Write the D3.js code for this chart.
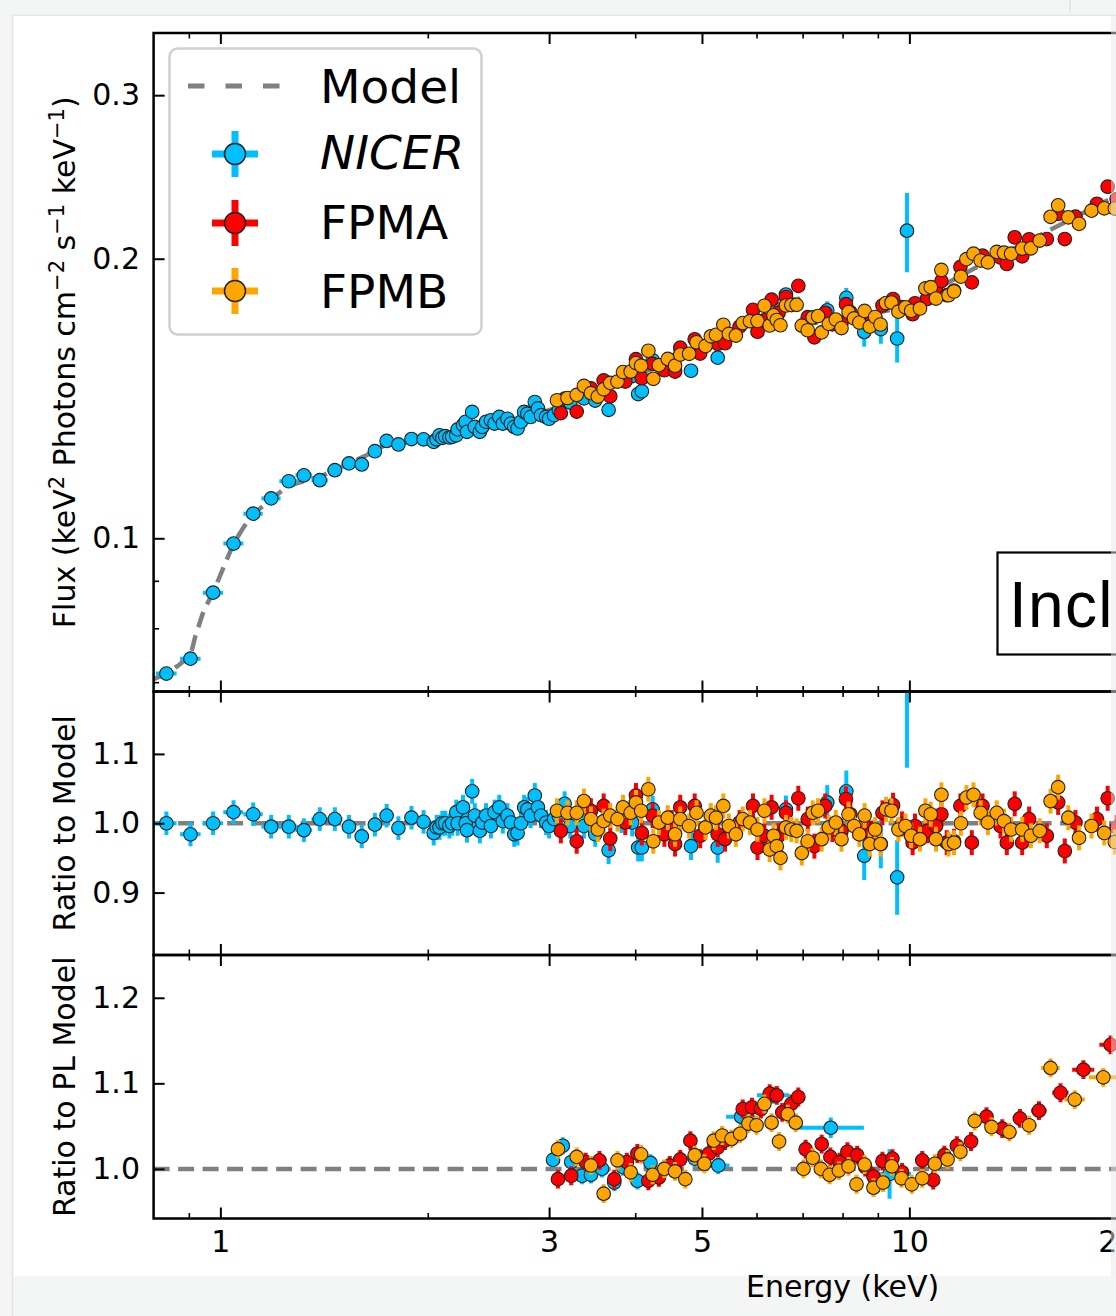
<!DOCTYPE html>
<html><head><meta charset="utf-8">
<script src="https://cdn.jsdelivr.net/npm/d3@7"></script>
<style>html,body{margin:0;padding:0;background:#f4f5f5;overflow:hidden}</style>
</head><body>
<svg id="c" width="1116" height="1316"></svg>
<script>
// ---------------- DATA ----------------
// Model (panel 1 dashed line)
const modelEnergy = [0.8,0.835,0.87,0.905,0.92,0.946,0.976,1.011,1.045,1.081,1.116,1.182,1.25,1.41,1.62,1.73,1.93,2.2,2.5,3.0,3.5,4.0,4.5,5.0,5.5,6.0,6.4,6.7,6.9,7.1,7.3,7.6,8.0,8.5,9.0,9.5,10.0,11.0,12.45,14.0,16.1,19.7,22.0];
const modelFlux   = [0.0705,0.0715,0.073,0.0748,0.0785,0.0836,0.0874,0.0931,0.0987,0.1028,0.1063,0.1099,0.1138,0.1169,0.1226,0.1259,0.1275,0.130,0.1323,0.1374,0.143,0.1498,0.155,0.1614,0.167,0.1727,0.178,0.1805,0.181,0.1735,0.1705,0.171,0.1725,0.1737,0.175,0.1765,0.1785,0.186,0.1954,0.204,0.2153,0.2325,0.241];

// NICER
const nicerEnergy = [0.835,0.905,0.976,1.045,1.116,1.185,1.257,1.322,1.394,1.466,1.537,1.604,1.676,1.743,1.813,1.894,1.972,
  2.04,2.06,2.08,2.10,2.12,2.15,2.17,2.20,2.21,2.25,2.27,2.28,2.32,2.34,2.38,2.40,2.43,2.47,2.50,2.54,2.57,2.61,2.64,2.67,2.70,2.73,2.76,2.79,2.82,2.86,2.89,2.92,2.97,3.00,3.05,3.10,3.16,
  3.22,3.37,3.50,3.66,3.82,3.96,4.04,4.09,4.24,4.82,5.27,
  6.62,7.60,8.10,8.60,9.09,9.60,9.92];
const nicerEnergyErr = [0.029,0.031,0.033,0.035,0.036,0.038,0.039,0.037,0.038,0.038,0.037,0.036,0.036,0.035,0.035,0.034,0.033,
  0.012,0.012,0.012,0.012,0.012,0.012,0.012,0.012,0.012,0.012,0.012,0.012,0.012,0.012,0.012,0.012,0.012,0.012,0.012,0.012,0.012,0.012,0.012,0.012,0.012,0.012,0.012,0.012,0.012,0.012,0.012,0.012,0.012,0.012,0.012,0.012,0.012,
  0.015,0.015,0.015,0.02,0.02,0.02,0.02,0.02,0.02,0.03,0.04,
  0.08,0.1,0.1,0.1,0.1,0.1,0.1];
const nicerFlux = [0.0715,0.0742,0.0874,0.0987,0.1063,0.1104,0.1152,0.1169,0.1155,0.1184,0.1204,0.1201,0.1241,0.1273,0.1262,0.1279,0.1278,
  0.1270,0.1278,0.1291,0.1283,0.1288,0.1284,0.1286,0.1291,0.1310,0.1324,0.1335,0.1302,0.1368,0.1318,0.1302,0.1318,0.1335,0.1340,0.1329,0.1351,0.1329,0.1345,0.1329,0.1318,0.1313,0.1335,0.1368,0.1362,0.1351,0.1402,0.1380,0.1357,0.1351,0.1345,0.1357,0.1374,0.1414,
  0.1400,0.1415,0.1407,0.1375,0.1480,0.1495,0.1430,0.1440,0.1555,0.1515,0.1565,
  0.1830,0.1760,0.1815,0.1668,0.1680,0.1641,0.2144];
const nicerFluxErr = [0.0008,0.0008,0.0008,0.0008,0.0008,0.0008,0.0008,0.0008,0.0008,0.0008,0.0008,0.0008,0.0008,0.0008,0.0008,0.0008,0.0008,
  0.0012,0.0012,0.0012,0.0012,0.0012,0.0012,0.0012,0.0012,0.0012,0.0012,0.0012,0.0012,0.0012,0.0012,0.0012,0.0012,0.0012,0.0012,0.0012,0.0012,0.0012,0.0012,0.0012,0.0012,0.0012,0.0012,0.0012,0.0012,0.0012,0.0012,0.0012,0.0012,0.0012,0.0012,0.0012,0.0012,0.0012,
  0.0015,0.0015,0.0015,0.0016,0.0016,0.0016,0.0016,0.0016,0.0017,0.0018,0.002,
  0.003,0.004,0.0045,0.006,0.006,0.0095,0.021];
const nicerRatio = [1.000,0.984,1.000,1.016,1.013,0.995,0.995,0.990,1.006,1.006,0.995,0.981,0.998,1.011,0.993,1.008,1.002,
  0.986,0.994,0.994,1.0,1.0,0.996,1.0,1.016,1.0,1.023,1.0,0.990,1.046,1.011,0.989,1.001,1.011,0.996,1.016,1.023,1.003,1.011,1.001,0.984,0.986,1.0,1.023,1.020,1.011,1.040,1.023,1.011,1.001,0.996,1.006,1.010,1.028,
  0.996,0.996,0.984,0.961,1.006,1.001,0.965,0.965,1.020,0.967,0.965,
  1.020,1.030,1.046,0.953,0.970,0.922,1.205];
const nicerRatioErr = [0.017,0.017,0.017,0.017,0.017,0.017,0.017,0.017,0.017,0.017,0.017,0.017,0.017,0.017,0.017,0.017,0.017,
  0.018,0.018,0.018,0.018,0.018,0.018,0.018,0.018,0.018,0.018,0.018,0.018,0.018,0.018,0.018,0.018,0.018,0.018,0.018,0.018,0.018,0.018,0.018,0.018,0.018,0.018,0.018,0.018,0.018,0.018,0.018,0.018,0.018,0.018,0.018,0.018,0.018,
  0.018,0.018,0.018,0.02,0.02,0.02,0.02,0.02,0.02,0.02,0.022,
  0.02,0.025,0.03,0.035,0.035,0.054,0.125];

// FPMA
const fpmaEnergy = [3.12,3.29,3.45,3.60,3.68,4.01,4.09,4.24,4.41,4.57,4.65,4.88,5.27,5.40,5.93,6.02,6.31,6.46,6.90,7.12,7.28,7.55,7.97,8.09,8.21,8.61,8.82,9.14,9.47,9.76,10.11,10.61,10.93,11.13,11.33,11.61,11.86,12.32,12.77,13.56,13.85,14.22,14.58,14.92,15.83,16.44,16.81,17.42,18.72,19.40,19.99,
  3.87,4.52,4.97,5.67,6.16,6.62,7.73,10.19];
const fpmaFlux = [0.1364,0.1369,0.1450,0.1479,0.1422,0.1559,0.1487,0.1541,0.1517,0.1512,0.1604,0.1638,0.1620,0.1622,0.1762,0.1669,0.1807,0.1749,0.1870,0.1730,0.1646,0.1749,0.1705,0.1787,0.1752,0.1731,0.1720,0.1781,0.1810,0.1774,0.1743,0.1810,0.1848,0.1892,0.1827,0.1848,0.1960,0.1886,0.2015,0.2006,0.1974,0.2109,0.2012,0.2099,0.2100,0.2235,0.2100,0.2220,0.2292,0.2391,0.2319,
  0.1475,0.1554,0.1581,0.1690,0.1717,0.1819,0.1700,0.1791];
const fpmaRatio = [0.989,0.974,1.018,1.025,0.978,1.040,0.986,1.011,0.984,0.970,1.023,1.025,0.984,0.977,1.025,0.965,1.023,0.982,1.036,1.006,0.967,1.025,0.989,1.035,1.013,0.996,0.986,1.015,1.026,0.999,0.972,0.989,0.996,1.013,0.972,0.974,1.025,0.972,1.025,0.996,0.972,1.028,0.972,1.006,0.982,1.030,0.960,1.001,1.006,1.036,0.994,
  1.001,1.001,0.982,1.001,0.982,1.015,0.991,0.996];

// FPMB
const fpmbEnergy = [3.08,3.19,3.29,3.37,3.45,3.53,3.60,3.68,3.77,3.84,3.94,4.01,4.08,4.18,4.25,4.33,4.46,4.57,4.65,4.79,4.91,5.06,5.15,5.24,5.37,5.47,5.60,5.73,5.87,6.02,6.16,6.27,6.35,6.42,6.50,6.62,6.74,6.86,6.98,7.12,7.24,7.37,7.46,7.64,7.82,7.97,8.16,8.31,8.46,8.61,8.76,8.92,9.08,9.25,9.42,9.64,9.87,10.06,10.36,10.55,10.74,10.93,11.13,11.40,11.61,11.88,12.10,12.39,12.69,13.00,13.39,13.72,14.05,14.58,15.01,15.46,16.03,16.44,17.01,17.63,18.38,19.18,19.87];
const fpmbFlux = [0.1408,0.1416,0.1427,0.1459,0.1433,0.1421,0.1447,0.1470,0.1475,0.1510,0.1512,0.1544,0.1534,0.1592,0.1485,0.1536,0.1560,0.1534,0.1577,0.1580,0.1626,0.1611,0.1650,0.1656,0.1698,0.1660,0.1653,0.1705,0.1713,0.1714,0.1780,0.1695,0.1738,0.1718,0.1696,0.1781,0.1783,0.1784,0.1694,0.1675,0.1729,0.1735,0.1666,0.1702,0.1720,0.1684,0.1752,0.1725,0.1707,0.1757,0.1690,0.1731,0.1699,0.1792,0.1794,0.1754,0.1773,0.1758,0.1768,0.1858,0.1864,0.1812,0.1945,0.1827,0.1844,0.1913,0.1998,0.2025,0.1991,0.1982,0.2034,0.2030,0.2025,0.2051,0.2052,0.2092,0.2219,0.2283,0.2216,0.2181,0.2253,0.2266,0.2265];
const fpmbRatio = [1.018,1.015,1.015,1.032,1.006,0.991,1.003,1.011,1.006,1.023,1.015,1.030,1.018,1.049,0.974,1.001,1.008,0.984,1.006,0.996,1.015,0.994,1.011,1.008,1.025,0.996,0.984,1.006,1.001,0.991,1.018,0.962,0.982,0.967,0.950,0.994,0.991,0.989,0.957,0.974,1.015,1.018,0.977,0.994,1.001,0.977,1.013,0.996,0.984,1.011,0.970,0.991,0.970,1.020,1.018,0.991,0.996,0.982,0.977,1.018,1.013,0.977,1.041,0.970,0.972,1.0,1.037,1.041,1.015,1.001,1.015,1.003,0.991,0.991,0.982,0.989,1.032,1.052,1.008,0.979,0.996,0.986,0.973];
const nustarFluxRelErr = 0.009;
const nustarRatioErr = 0.018;

// Panel 3: ratio to power-law model
const nicerPLEnergy = [3.04,3.14,3.23,3.35,3.45,3.58,3.73,3.84,4.03,4.21,4.41,4.88,5.28,5.70,6.35,7.69,9.36];
const nicerPLEnergyErr = [0.05,0.05,0.05,0.05,0.05,0.06,0.06,0.06,0.08,0.08,0.1,0.2,0.2,0.28,0.34,0.9,0.7];
const nicerPLRatio = [1.0105,1.027,1.008,0.992,0.993,1.0,0.984,1.002,0.986,1.007,1.0,1.012,1.004,1.061,1.086,1.048,0.994];
const nicerPLRatioErr = [0.01,0.01,0.01,0.01,0.01,0.01,0.01,0.01,0.01,0.01,0.01,0.01,0.01,0.01,0.01,0.012,0.029];

const fpmaPLEnergy = [3.09,3.23,3.39,3.55,3.73,3.89,4.03,4.18,4.33,4.49,4.65,4.81,4.97,5.12,5.27,5.40,5.73,5.91,6.09,6.27,6.42,6.54,6.74,6.90,7.07,7.46,7.68,7.92,8.13,8.40,8.63,8.87,9.14,9.45,9.76,10.44,10.83,11.24,11.72,12.29,12.94,13.64,14.47,15.42,16.57,17.89,19.59];
const fpmaPLEnergyErr = [0.07,0.07,0.07,0.07,0.07,0.07,0.08,0.08,0.08,0.08,0.08,0.08,0.08,0.08,0.08,0.08,0.08,0.08,0.08,0.08,0.08,0.08,0.08,0.08,0.1,0.1,0.1,0.12,0.12,0.12,0.12,0.12,0.12,0.15,0.15,0.18,0.18,0.2,0.22,0.24,0.26,0.28,0.34,0.4,0.45,0.66,0.72];
const fpmaPLRatio = [0.988,0.992,1.008,1.010,0.988,1.008,1.018,0.986,0.990,1.004,1.011,1.033,1.012,1.018,1.025,1.033,1.070,1.072,1.070,1.088,1.086,1.066,1.076,1.084,1.023,1.029,1.014,1.008,1.020,1.016,1.002,0.991,1.009,1.012,0.996,1.010,0.987,1.016,1.027,1.032,1.061,1.047,1.059,1.068,1.089,1.116,1.145];

const fpmbPLEnergy = [3.09,3.29,3.45,3.60,3.77,3.94,4.08,4.24,4.41,4.57,4.73,4.88,5.04,5.20,5.35,5.52,5.68,5.84,6.00,6.16,6.31,6.47,6.66,6.84,7.02,7.24,7.44,7.66,7.90,8.16,8.38,8.61,8.87,9.16,9.43,9.74,10.08,10.44,10.89,11.36,11.86,12.44,13.16,13.97,14.92,16.03,17.38,19.12];
const fpmbPLEnergyErr = [0.07,0.07,0.07,0.07,0.07,0.07,0.08,0.08,0.08,0.08,0.08,0.08,0.08,0.08,0.08,0.08,0.08,0.08,0.08,0.08,0.08,0.08,0.08,0.08,0.1,0.1,0.1,0.1,0.12,0.12,0.12,0.12,0.12,0.12,0.15,0.15,0.16,0.18,0.2,0.22,0.24,0.26,0.3,0.35,0.4,0.5,0.6,0.9];
const fpmbPLRatio = [1.023,1.014,1.004,0.971,1.010,0.996,1.017,0.993,1.0,0.997,0.988,1.016,1.006,1.033,1.039,1.035,1.041,1.053,1.051,1.076,1.054,1.032,1.064,1.054,1.0,1.013,1.0,0.993,0.998,1.003,0.982,1.005,0.978,0.984,1.003,0.989,0.982,0.989,1.006,1.011,1.020,1.056,1.049,1.043,1.051,1.118,1.081,1.107];
const plRatioErr = 0.011;

// ticks / labels
const xMajorTicks = [1,3,5,10,20,50];
const xMinorTicks = [0.9,2,4,6,7,8,9,30,40,60,70];
const fluxMajorTicks = [0.1,0.2,0.3];
const fluxMinorTicks = [0.07,0.08,0.09];
const ratioTicks = [0.9,1.0,1.1];
const plRatioTicks = [1.0,1.1,1.2];
const legendLabels = ["Model","NICER","FPMA","FPMB"];
const annotationText = "Incl";

// ---------------- DRAW ----------------
const FONT = "DejaVu Sans";
const C_NICER = "#00bfff", C_FPMA = "#ff0000", C_FPMB = "#ffa500", C_MODEL = "#808080";
const svg = d3.select("#c");
svg.append("rect").attr("width",1116).attr("height",1316).attr("fill","#f4f5f5");
svg.append("rect").attr("x",13).attr("y",16).attr("width",1103).attr("height",1260).attr("fill","#ffffff");
svg.append("line").attr("x1",12.5).attr("x2",12.5).attr("y1",14).attr("y2",1316).attr("stroke","#e2e3e3").attr("stroke-width",1.5);
svg.append("line").attr("x1",12).attr("x2",1116).attr("y1",15.2).attr("y2",15.2).attr("stroke","#e6e7e7").attr("stroke-width",1.5);
svg.append("line").attr("x1",1070).attr("x2",1070).attr("y1",0).attr("y2",13).attr("stroke","#dcdcdc").attr("stroke-width",1.2);

const X0 = 153.6, X1 = 1531.6;
const x = d3.scaleLog().domain([0.8, 80]).range([X0, X1]);
const P1 = {top:33, bottom:691.5}, P2 = {top:691.5, bottom:955}, P3 = {top:955, bottom:1218.5};
const y1 = d3.scaleLog().domain([0.0684, 0.35]).range([P1.bottom, P1.top]);
const y2 = d3.scaleLinear().domain([0.81, 1.19]).range([P2.bottom, P2.top]);
const y3 = d3.scaleLinear().domain([0.942, 1.25]).range([P3.bottom, P3.top]);

const defs = svg.append("defs");
[P1,P2,P3].forEach((P,i)=>{
  defs.append("clipPath").attr("id","clip"+i).append("rect")
    .attr("x",X0).attr("y",P.top).attr("width",X1-X0).attr("height",P.bottom-P.top);
});

function series(g, ys, E, V, Verr, Eerr, color) {
  const d = E.map((e,i)=>({e, v:V[i], ve:Verr[i], ee:Eerr ? Eerr[i] : 0}));
  const gb = g.append("g");
  gb.selectAll("line.v").data(d).join("line").attr("class","v")
    .attr("x1",p=>x(p.e)).attr("x2",p=>x(p.e))
    .attr("y1",p=>ys(p.v-p.ve)).attr("y2",p=>ys(p.v+p.ve))
    .attr("stroke",color).attr("stroke-width",4);
  gb.selectAll("line.h").data(d.filter(p=>p.ee>0)).join("line").attr("class","h")
    .attr("x1",p=>x(p.e-p.ee)).attr("x2",p=>x(p.e+p.ee))
    .attr("y1",p=>ys(p.v)).attr("y2",p=>ys(p.v))
    .attr("stroke",color).attr("stroke-width",4);
  g.append("g").selectAll("circle").data(d).join("circle")
    .attr("cx",p=>x(p.e)).attr("cy",p=>ys(p.v)).attr("r",6.8)
    .attr("fill",color).attr("stroke","#222").attr("stroke-width",1.1);
}

const dash = "16,8.5";
// Panel 1
const g1 = svg.append("g").attr("clip-path","url(#clip0)");
g1.append("path").datum(modelEnergy.map((e,i)=>[e,modelFlux[i]]))
  .attr("d", d3.line().x(p=>x(p[0])).y(p=>y1(p[1])))
  .attr("fill","none").attr("stroke",C_MODEL).attr("stroke-width",4.5).attr("stroke-dasharray",dash);
series(g1, y1, nicerEnergy, nicerFlux, nicerFluxErr, nicerEnergyErr, C_NICER);
series(g1, y1, fpmaEnergy, fpmaFlux, fpmaFlux.map(v=>v*nustarFluxRelErr), null, C_FPMA);
series(g1, y1, fpmbEnergy, fpmbFlux, fpmbFlux.map(v=>v*nustarFluxRelErr), null, C_FPMB);

// Panel 2
const g2 = svg.append("g").attr("clip-path","url(#clip1)");
g2.append("line").attr("x1",X0).attr("x2",X1).attr("y1",y2(1)).attr("y2",y2(1))
  .attr("stroke",C_MODEL).attr("stroke-width",4.5).attr("stroke-dasharray",dash);
series(g2, y2, nicerEnergy, nicerRatio, nicerRatioErr, nicerEnergyErr, C_NICER);
series(g2, y2, fpmaEnergy, fpmaRatio, fpmaRatio.map(()=>nustarRatioErr), null, C_FPMA);
series(g2, y2, fpmbEnergy, fpmbRatio, fpmbRatio.map(()=>nustarRatioErr), null, C_FPMB);

// Panel 3
const g3 = svg.append("g").attr("clip-path","url(#clip2)");
g3.append("line").attr("x1",X0).attr("x2",X1).attr("y1",y3(1)).attr("y2",y3(1))
  .attr("stroke",C_MODEL).attr("stroke-width",4.5).attr("stroke-dasharray",dash);
series(g3, y3, nicerPLEnergy, nicerPLRatio, nicerPLRatioErr, nicerPLEnergyErr, C_NICER);
series(g3, y3, fpmaPLEnergy, fpmaPLRatio, fpmaPLRatio.map(()=>plRatioErr), fpmaPLEnergyErr, C_FPMA);
series(g3, y3, fpmbPLEnergy, fpmbPLRatio, fpmbPLRatio.map(()=>plRatioErr), fpmbPLEnergyErr, C_FPMB);

// Axes
function styleAxis(sel, w) {
  sel.selectAll(".domain").remove();
  sel.selectAll(".tick line").attr("stroke","#000").attr("stroke-width",w);
  sel.selectAll("text").attr("font-size",30).attr("font-family",FONT).attr("fill","#000");
}
function axes(P, ys, yMajor, yMinor, yFmt, showX) {
  const g = svg.append("g");
  g.append("g").attr("transform",`translate(0,${P.bottom})`)
    .call(d3.axisBottom(x).tickValues(xMajorTicks).tickSize(-11).tickPadding(12)
      .tickFormat(showX ? d3.format("d") : ()=>"")).call(s=>styleAxis(s,2));
  g.append("g").attr("transform",`translate(0,${P.bottom})`)
    .call(d3.axisBottom(x).tickValues(xMinorTicks).tickSize(-5.5).tickFormat(()=>"")).call(s=>styleAxis(s,1.6));
  g.append("g").attr("transform",`translate(0,${P.top})`)
    .call(d3.axisTop(x).tickValues(xMajorTicks).tickSize(-11).tickFormat(()=>"")).call(s=>styleAxis(s,2));
  g.append("g").attr("transform",`translate(0,${P.top})`)
    .call(d3.axisTop(x).tickValues(xMinorTicks).tickSize(-5.5).tickFormat(()=>"")).call(s=>styleAxis(s,1.6));
  g.append("g").attr("transform",`translate(${X0},0)`)
    .call(d3.axisLeft(ys).tickValues(yMajor).tickSize(-11).tickPadding(13.6).tickFormat(yFmt)).call(s=>styleAxis(s,2));
  if (yMinor) g.append("g").attr("transform",`translate(${X0},0)`)
    .call(d3.axisLeft(ys).tickValues(yMinor).tickSize(-5.5).tickFormat(()=>"")).call(s=>styleAxis(s,1.6));
  g.append("rect").attr("x",X0).attr("y",P.top).attr("width",X1-X0).attr("height",P.bottom-P.top)
    .attr("fill","none").attr("stroke","#000").attr("stroke-width",2.5);
}
axes(P1, y1, fluxMajorTicks, fluxMinorTicks, d3.format(".1f"), false);
axes(P2, y2, ratioTicks, null, d3.format(".1f"), false);
axes(P3, y3, plRatioTicks, null, d3.format(".1f"), true);

// Axis labels
const fl = svg.append("text").attr("transform",`translate(75,${(P1.top+P1.bottom)/2}) rotate(-90)`)
  .attr("text-anchor","middle").attr("font-family",FONT).attr("font-size",30).attr("fill","#000");
const parts = [["Flux (keV",0],["2",1],[" Photons cm",0],["\u22122",1],[" s",0],["\u22121",1],[" keV",0],["\u22121",1],[")",0]];
let up = false;
parts.forEach(([t,s])=>{
  const ts = fl.append("tspan").text(t);
  if (s && !up) { ts.attr("dy",-11).attr("font-size",21); up = true; }
  else if (s) { ts.attr("font-size",21); }
  else if (!s && up) { ts.attr("dy",11); up = false; }
});
svg.append("text").attr("transform",`translate(75,${(P2.top+P2.bottom)/2}) rotate(-90)`)
  .attr("text-anchor","middle").attr("font-family",FONT).attr("font-size",30).text("Ratio to Model");
svg.append("text").attr("transform",`translate(75,${(P3.top+P3.bottom)/2}) rotate(-90)`)
  .attr("text-anchor","middle").attr("font-family",FONT).attr("font-size",30).text("Ratio to PL Model");
svg.append("text").attr("x",842.6).attr("y",1297).attr("text-anchor","middle")
  .attr("font-family",FONT).attr("font-size",30).text("Energy (keV)");

// Legend
const lg = svg.append("g");
lg.append("rect").attr("x",169.5).attr("y",48.5).attr("width",312).attr("height",286).attr("rx",8)
  .attr("fill","#fff").attr("fill-opacity",0.8).attr("stroke","#d0d0d0").attr("stroke-width",2.5);
lg.append("line").attr("x1",188).attr("x2",282).attr("y1",86).attr("y2",86)
  .attr("stroke",C_MODEL).attr("stroke-width",5).attr("stroke-dasharray","16.5,21");
[[154,C_NICER],[223,C_FPMA],[291,C_FPMB]].forEach(([yy,c])=>{
  lg.append("line").attr("x1",212).attr("x2",258).attr("y1",yy).attr("y2",yy).attr("stroke",c).attr("stroke-width",7);
  lg.append("line").attr("x1",235).attr("x2",235).attr("y1",yy-23).attr("y2",yy+23).attr("stroke",c).attr("stroke-width",7);
  lg.append("circle").attr("cx",235).attr("cy",yy).attr("r",10.5).attr("fill",c).attr("stroke","#222").attr("stroke-width",1.5);
});
[[103,0],[169,1],[239,2],[308,3]].forEach(([yy,i])=>{
  lg.append("text").attr("x",320).attr("y",yy).attr("font-family",FONT).attr("font-size",47)
    .attr("font-style", i===1 ? "italic" : "normal").text(legendLabels[i]);
});

// Annotation box (cropped at the page edge)
svg.append("rect").attr("x",997.5).attr("y",552.5).attr("width",600).attr("height",102)
  .attr("fill","#fff").attr("stroke","#000").attr("stroke-width",2.2);
svg.append("text").attr("x",1009).attr("y",627).attr("font-family","Liberation Sans, Arial, sans-serif")
  .attr("font-size",64).attr("letter-spacing",1.3).text(annotationText);
// faint page-edge strip at right
svg.append("rect").attr("x",1111).attr("y",16).attr("width",5).attr("height",1260).attr("fill","#e6e7e7").attr("fill-opacity",0.5);
</script>
</body></html>
